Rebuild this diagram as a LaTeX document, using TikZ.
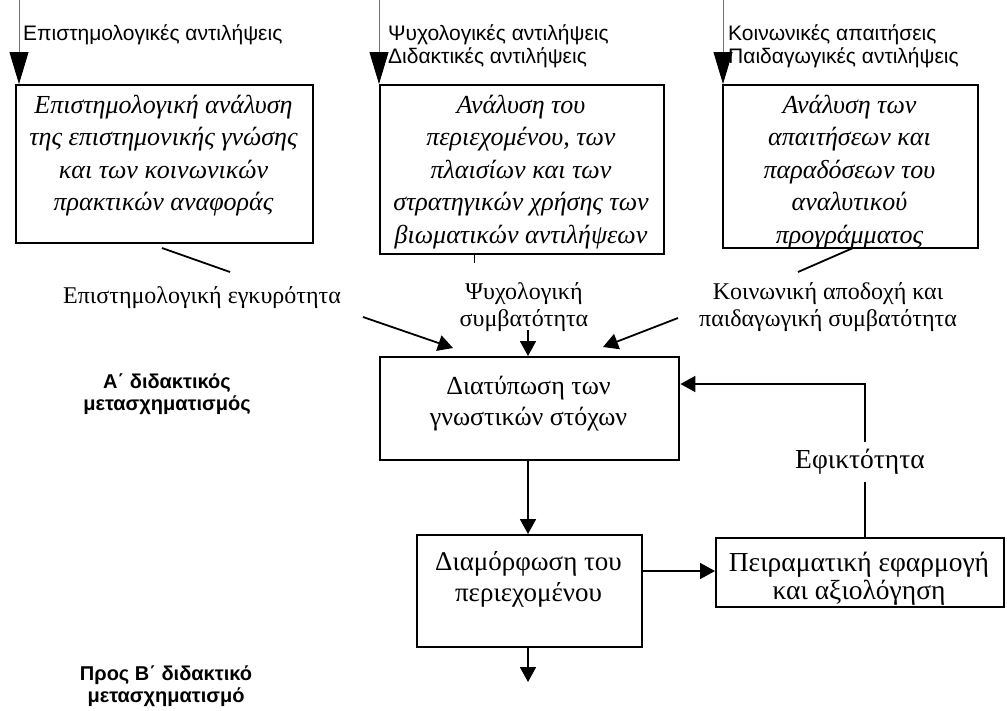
\documentclass[tikz,border=0pt]{standalone}
\usepackage{fontspec}
\setmainfont{Liberation Serif}
\newfontfamily\arialf{Liberation Sans}
\usetikzlibrary{arrows.meta}
\tikzset{
  boxst/.style={draw, line width=2.4pt, inner sep=0pt, anchor=north west},
  itext/.style={inner sep=0pt, align=center, anchor=north, font=\itshape\fontsize{26}{32.5}\selectfont},
  rtext/.style={inner sep=0pt, align=center, anchor=north, font=\fontsize{27}{31}\selectfont},
  mtext/.style={inner sep=0pt, align=center, font=\fontsize{24}{27}\selectfont},
  atext/.style={inner sep=0pt, align=left, anchor=north west, font=\arialf\fontsize{21}{23}\selectfont},
  btext/.style={inner sep=0pt, align=center, anchor=north, font=\arialf\bfseries\fontsize{20}{22}\selectfont},
  bigarr/.style={draw=black!55, line width=0.8pt, -{Triangle[length=32pt,width=19pt,color=black]}},
  arr/.style={line width=1.8pt, -{Triangle[length=15pt,width=16pt]}},
  plainln/.style={line width=1.8pt},
}
\begin{document}
\begin{tikzpicture}[x=1pt,y=-1pt]
\useasboundingbox (0,0) rectangle (1007,710);
% top boxes
\node[boxst, minimum width=297pt, minimum height=158pt] (b1) at (15,84) {};
\node[boxst, minimum width=284pt, minimum height=169pt] (b2) at (379,84) {};
\node[boxst, minimum width=255pt, minimum height=163pt] (b3) at (722,84) {};
\node[itext] (t1) at (163.5,90.3) {\strut Επιστημολογική ανάλυση\\\strut της επιστημονικής γνώσης\\\strut και των κοινωνικών\\\strut πρακτικών αναφοράς};
\node[itext] (t2) at (521,90.3) {\strut Ανάλυση του\\\strut περιεχομένου, των\\\strut πλαισίων και των\\\strut στρατηγικών χρήσης των\\\strut βιωματικών αντιλήψεων};
\node[itext] (t3) at (849.5,90.3) {\strut Ανάλυση των\\\strut απαιτήσεων και\\\strut παραδόσεων του\\\strut αναλυτικού\\\strut προγράμματος};
% top labels
\node[atext] (l1) at (23,23.9) {\strut Επιστημολογικές αντιλήψεις};
\node[atext] (l2) at (388,23.9) {\strut Ψυχολογικές αντιλήψεις\\\strut Διδακτικές αντιλήψεις};
\node[atext] (l3) at (728,23.9) {\strut Κοινωνικές απαιτήσεις\\\strut Παιδαγωγικές αντιλήψεις};
\coordinate (s1) at (19,0);
\coordinate (s2) at (379,0);
\coordinate (s3) at (723,0);
\draw[bigarr] (s1) -- (s1 |- b1.north);
\draw[bigarr] (s2) -- (s2 |- b2.north);
\draw[bigarr] (s3) -- (s3 |- b3.north);
% small lines under boxes
\coordinate (p1a) at (162,248); \coordinate (p1b) at (230,272);
\coordinate (p2a) at (474,254); \coordinate (p2b) at (474,263);
\coordinate (p3a) at (853,248); \coordinate (p3b) at (798,272);
\draw[plainln] (p1a) -- (p1b);
\draw[line width=1pt] (p2a) -- (p2b);
\draw[plainln] (p3a) -- (p3b);
% middle labels
\node[mtext, anchor=base] (m1) at (202,303) {Επιστημολογική εγκυρότητα};
\node[mtext, anchor=north] (m2) at (524,280) {\strut Ψυχολογική\\\strut συμβατότητα};
\node[mtext, anchor=north] (m3) at (828,280) {\strut Κοινωνική αποδοχή και\\\strut παιδαγωγική συμβατότητα};
% lower boxes
\node[boxst, minimum width=299pt, minimum height=103pt] (diat) at (379,356) {};
\node[boxst, minimum width=225pt, minimum height=112pt] (diam) at (416,534) {};
\node[boxst, minimum width=288pt, minimum height=69pt] (pei) at (715,537) {};
\node[rtext, font=\fontsize{26}{31}\selectfont] (td) at (528.5,372.5) {\strut Διατύπωση των\\\strut γνωστικών στόχων};
\node[rtext] (tm) at (528.5,549) {\strut Διαμόρφωση του\\\strut περιεχομένου};
\node[rtext, font=\fontsize{27.5}{28}\selectfont] (tp) at (859,552) {\strut Πειραματική εφαρμογή\\\strut και αξιολόγηση};
% arrows into diat
\coordinate (a1s) at (363,317); \coordinate (a1e) at (453,348);
\coordinate (a2s) at (528,330);
\coordinate (a3s) at (678,318); \coordinate (a3e) at (603,347);
\draw[arr] (a1s) -- (a1e);
\draw[arr] (a2s) -- (a2s |- diat.north);
\draw[arr] (a3s) -- (a3e);
% flow
\coordinate (cx) at (528,0);
\draw[arr] (diat.south -| cx) -- (diam.north -| cx);
\draw[arr] (diam.east |- 0,571) -- (pei.west |- 0,571);
\coordinate (endb) at (528,682);
\draw[arr] (diam.south -| cx) -- (endb);
% feedback
\node[mtext, font=\fontsize{27.5}{30}\selectfont, anchor=center, minimum height=39pt] (ef) at (860,462) {Εφικτότητα};
\coordinate (fbx) at (865,0);
\coordinate (fby) at (0,384);
\draw[plainln] (pei.north -| fbx) -- (ef.south -| fbx);
\draw[arr] (ef.north -| fbx) |- (diat.east |- fby);
% left bold labels
\node[btext] (bl1) at (167,372.6) {\strut Α΄ διδακτικός\\\strut μετασχηματισμός};
\node[btext] (bl2) at (166,664.6) {\strut Προς Β΄ διδακτικό\\\strut μετασχηματισμό};
\end{tikzpicture}
\end{document}
